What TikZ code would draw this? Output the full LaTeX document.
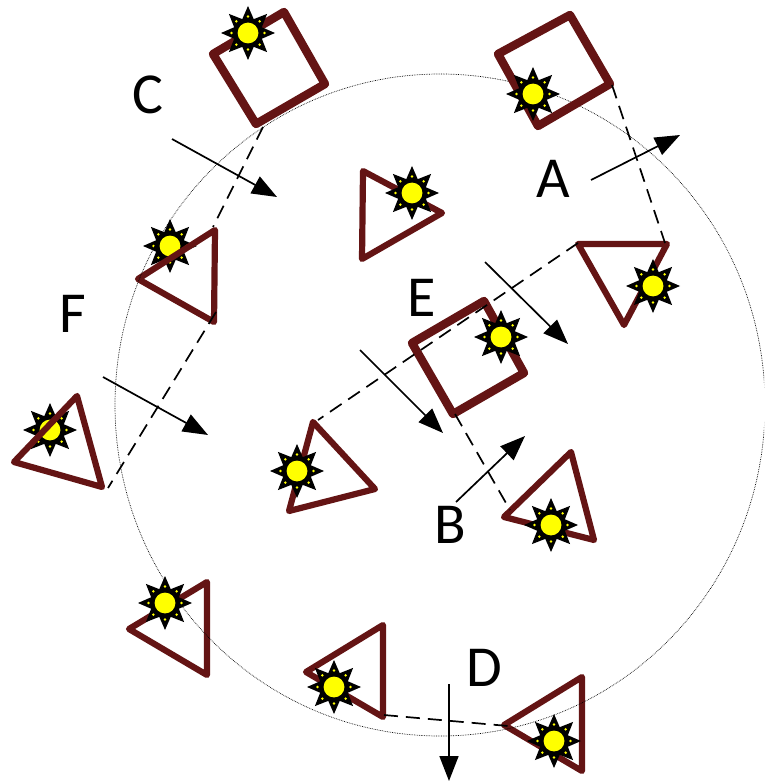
\documentclass[tikz,border=0pt]{standalone}
\usepackage{fontspec}
\setmainfont{Carlito}
\usetikzlibrary{arrows.meta}
\tikzset{
  x=1pt,y=-1pt,
  frame/.style={draw=framecol,line width=8.4pt,line join=round,fill=none},
  thinframe/.style={draw=framecol,line width=6.2pt,line join=round,fill=none},
  dashline/.style={draw=black,line width=1.7pt,dash pattern=on 14pt off 8pt},
  arr/.style={draw=black,line width=1.7pt,-{Triangle[length=25pt,width=19pt]},shorten >=0pt},
  lab/.style={font=\fontsize{58}{60}\selectfont,text=black,inner sep=0pt,anchor=center},
  orbit/.style={draw=black,line width=0.7pt,densely dotted},
}
\definecolor{framecol}{HTML}{641414}
\definecolor{sunyellow}{HTML}{FFFF00}
\newcommand{\sunpic}[1]{%
  \begin{scope}[shift={(#1)}]
    \fill[black] (0:27) \foreach \k in {1,...,15}{ -- ({\k*22.5}:{mod(\k,2)==0 ? 27 : 15}) } -- cycle;
    \foreach \a in {0,45,...,315}{\fill[sunyellow] (\a:16.5) circle (1.4);}
    \fill[sunyellow] (0,0) circle (10.4);
  \end{scope}}
\begin{document}
\begin{tikzpicture}
\useasboundingbox (0,0) rectangle (764,783);
\fill[white] (0,0) rectangle (764,783);

\coordinate (sa1) at (213,54); \coordinate (sa2) at (284,12); \coordinate (sa3) at (325,84); \coordinate (sa4) at (256,124);
\coordinate (sb1) at (498,54); \coordinate (sb2) at (570,15); \coordinate (sb3) at (610,84); \coordinate (sb4) at (538,126);
\coordinate (se1) at (412,343); \coordinate (se2) at (484,301); \coordinate (se3) at (524,373); \coordinate (se4) at (453,414);

% suns lying under their triangles
\sunpic{50,430}
\sunpic{170,246}

% triangles
\draw[thinframe] (14,462) -- (77,396) -- (102,487) -- cycle;
\draw[thinframe] (363,171) -- (442,213) -- (362,259) -- cycle;
\draw[thinframe] (138,279) -- (215,230) -- (214,322) -- cycle;
\draw[thinframe] (578,244) -- (667,244) -- (624,325) -- cycle;
\draw[thinframe] (313,422) -- (375,489) -- (289,511) -- cycle;
\draw[thinframe] (504,517) -- (571,452) -- (594,540) -- cycle;
\draw[thinframe] (129,629) -- (207,582) -- (207,675) -- cycle;
\draw[thinframe] (306,672) -- (383,625) -- (383,717) -- cycle;
\draw[thinframe] (504,725) -- (582,677) -- (582,771) -- cycle;

% orbit
\begin{scope}
\clip (0,0) rectangle (764,783);
\draw[orbit] (440,405) circle (325 and 331);
\end{scope}

% squares
\draw[frame] (sa1) -- (sa2) -- (sa3) -- (sa4) -- cycle;
\draw[frame] (sb1) -- (sb2) -- (sb3) -- (sb4) -- cycle;
\draw[frame] (se1) -- (se2) -- (se3) -- (se4) -- cycle;

% dashed connectors
\coordinate (c1) at (263,127); \coordinate (c2) at (213,227);
\coordinate (f1) at (216,312); \coordinate (f2) at (108,488);
\coordinate (a1) at (612,85);  \coordinate (a2) at (665,243);
\coordinate (e1) at (578,243); \coordinate (e2) at (318,420);
\coordinate (b1) at (455,414); \coordinate (b2) at (510,510);
\coordinate (d1) at (384,715); \coordinate (d2) at (508,726);
\draw[dashline] (c1) -- (c2);
\draw[dashline] (f1) -- (f2);
\draw[dashline] (a1) -- (a2);
\draw[dashline] (e1) -- (e2);
\draw[dashline] (b1) -- (b2);
\draw[dashline] (d1) -- (d2);

% suns on top
\sunpic{248,33}
\sunpic{533,94}
\sunpic{412,193}
\sunpic{653,286}
\sunpic{501,337}
\sunpic{297,471}
\sunpic{551,525}
\sunpic{165,603}
\sunpic{334,687}
\sunpic{554,741}

% arrows
\coordinate (ac1) at (172,139); \coordinate (ac2) at (277,197);
\coordinate (aa1) at (591,180); \coordinate (aa2) at (680,135);
\coordinate (ae1) at (485,262); \coordinate (ae2) at (568,344);
\coordinate (af1) at (103,377); \coordinate (af2) at (208,435);
\coordinate (am1) at (360,350); \coordinate (am2) at (443,433);
\coordinate (ab1) at (456,502); \coordinate (ab2) at (525,436);
\coordinate (ad1) at (449,684); \coordinate (ad2) at (449,781);
\draw[arr] (ac1) -- (ac2);
\draw[arr] (aa1) -- (aa2);
\draw[arr] (ae1) -- (ae2);
\draw[arr] (af1) -- (af2);
\draw[arr] (am1) -- (am2);
\draw[arr] (ab1) -- (ab2);
\draw[arr] (ad1) -- (ad2);

% labels
\node[lab] (lc) at (148,95) {C};
\node[lab] (la) at (553,179) {A};
\node[lab] (lf) at (73,314) {F};
\node[lab] (le) at (422,298) {E};
\node[lab] (lb) at (450,525) {B};
\node[lab] (ld) at (484,668) {D};
\end{tikzpicture}
\end{document}
